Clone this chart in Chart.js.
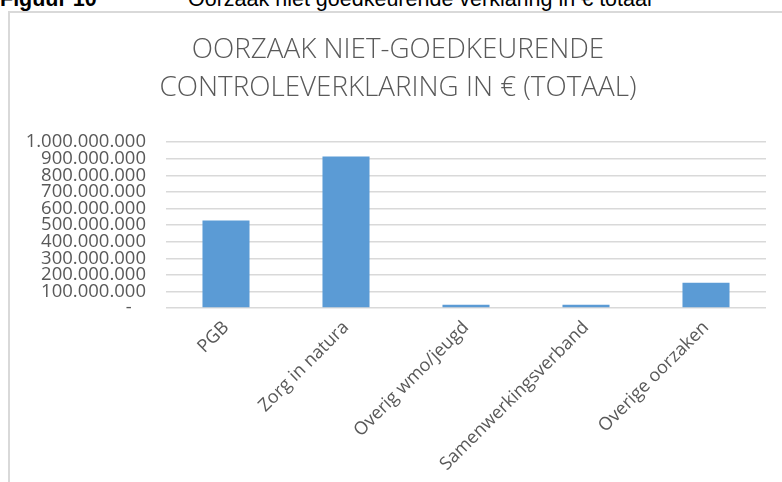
<!DOCTYPE html>
<html lang="nl">
<head>
<meta charset="UTF-8">
<title>Oorzaak niet goedkeurende verklaring</title>
<script src="https://cdn.jsdelivr.net/npm/chart.js"></script>
<style>
  body { margin: 0; background: #fff; overflow: hidden; }
  .kop { position: absolute; top: -11px; font-family: "Liberation Sans", Arial, sans-serif;
         font-size: 21.5px; line-height: 21.5px; color: #000; white-space: nowrap; }
  #box { position: absolute; left: 8px; top: 11px; width: 774px; height: 471px;
         border-left: 2px solid #d9d9d9; border-top: 2px solid #d9d9d9; }
</style>
</head>
<body>
<div class="kop" style="left:0;font-weight:bold">Figuur 10</div>
<div class="kop" style="left:188px">Oorzaak niet goedkeurende verklaring in € totaal</div>
<div id="box"><canvas id="oorzaakChart" width="772" height="469"></canvas></div>

<script>
  // gegevens
  const categorieen = ["PGB", "Zorg in natura", "Overig wmo/jeugd", "Samenwerkingsverband", "Overige oorzaken"];
  const bedragen = [527000000, 914000000, 19000000, 19000000, 152000000];
  const titel = ["OORZAAK NIET-GOEDKEURENDE", "CONTROLEVERKLARING IN € (TOTAAL)"];

  function punten(v) {
    return String(v).replace(/\B(?=(\d{3})+(?!\d))/g, ".");
  }

  // titel iets naar rechts, zoals in Excel
  const titelVerschuiving = {
    id: "titelVerschuiving",
    afterLayout: function (chart) {
      chart.titleBlock.left += 10;
      chart.titleBlock.right += 10;
    }
  };

  const ctx = document.getElementById("oorzaakChart").getContext("2d");
  new Chart(ctx, {
    type: "bar",
    data: {
      labels: categorieen,
      datasets: [{
        data: bedragen,
        backgroundColor: "#5b9bd5",
        categoryPercentage: 0.8,
        barPercentage: 0.49
      }]
    },
    options: {
      responsive: false,
      animation: false,
      layout: { padding: { right: 16 } },
      plugins: {
        legend: { display: false },
        tooltip: { enabled: false },
        title: {
          display: true,
          text: titel,
          color: "#595959",
          font: { family: "Open Sans", size: 27.8, weight: 300, lineHeight: 1.37 },
          padding: { top: 18, bottom: 35 }
        }
      },
      scales: {
        x: {
          grid: { display: false, drawTicks: false },
          border: { display: false },
          ticks: {
            color: "#595959",
            font: { family: "Open Sans", size: 18 },
            minRotation: 45,
            maxRotation: 45,
            padding: 9
          },
          afterFit: function (scale) { scale.height = 174; }
        },
        y: {
          min: 0,
          max: 1000000000,
          grid: { color: "#d9d9d9", lineWidth: 1.5, drawTicks: false },
          border: { display: false },
          ticks: {
            stepSize: 100000000,
            autoSkip: false,
            color: "#595959",
            font: { family: "Open Sans", size: 18.5 },
            padding: 20,
            callback: function (v) { return v === 0 ? "-   " : punten(v); }
          },
          afterFit: function (scale) { scale.width = 156; }
        }
      }
    },
    plugins: [titelVerschuiving]
  });
</script>
</body>
</html>
